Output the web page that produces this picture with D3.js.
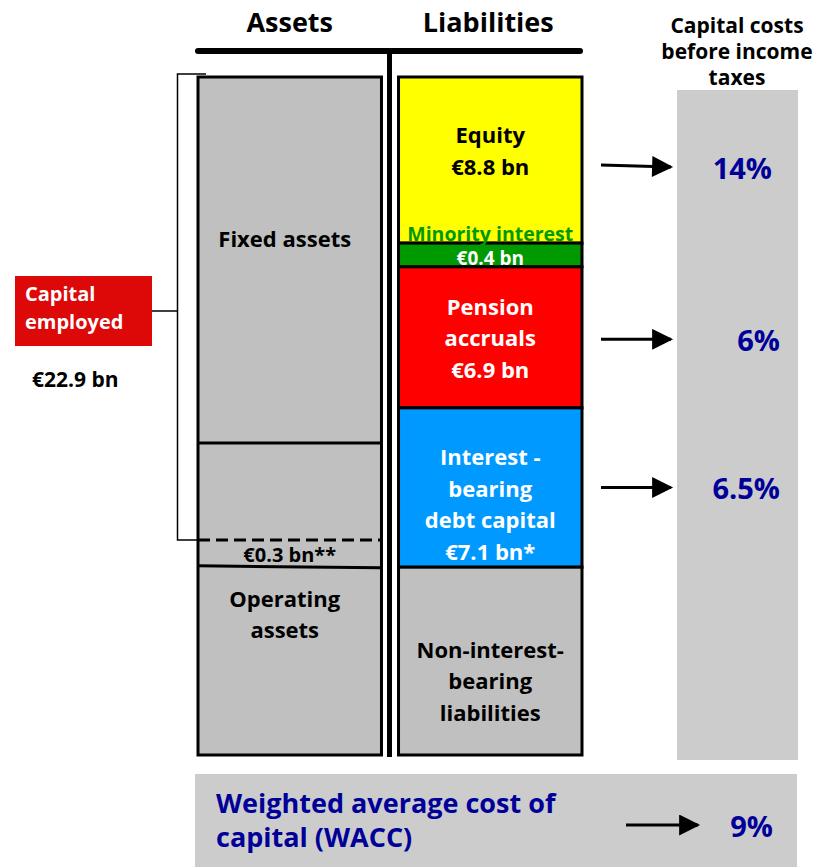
<!DOCTYPE html>
<html>
<head>
<meta charset="utf-8">
<script src="https://cdn.jsdelivr.net/npm/d3@7"></script>
<style>
  body { margin: 0; background: #fff; }
  text { font-family: "Open Sans", "DejaVu Sans", sans-serif; font-weight: 700; }
</style>
</head>
<body>
<svg id="chart" width="821" height="867"></svg>
<script>
// balance sheet blocks, share of balance sheet total (%) as drawn
const assetNames = ['Fixed assets', 'Current part', 'Other', 'Operating assets']
const assetShares = [54, 14.3, 3.8, 27.9]
const assetLabels = [['Fixed assets'], [], ['€0.3 bn**'], ['Operating', 'assets']]

const liabNames = ['Equity', 'Minority interest', 'Pension accruals', 'Interest-bearing debt', 'Non-interest-bearing']
const liabShares = [24.5, 3.5, 20.8, 23.5, 27.7]
const liabColors = ['#ffff00', '#009900', '#ff0000', '#0099ff', '#c0c0c0']
const liabTextColors = ['#000000', '#ffffff', '#ffffff', '#ffffff', '#000000']
const liabLabels = [
  ['Equity', '€8.8 bn'],
  ['€0.4 bn'],
  ['Pension', 'accruals', '€6.9 bn'],
  ['Interest -', 'bearing', 'debt capital', '€7.1 bn*'],
  ['Non-interest-', 'bearing', 'liabilities']
]

// capital costs before income taxes, attached to liability blocks
const costBlocks = ['Equity', 'Pension accruals', 'Interest-bearing debt']
const costLabels = ['14%', '6%', '6.5%']
const waccLabel = '9%'
const capitalEmployed = '€22.9 bn'

const svg = d3.select('#chart')
const y = d3.scaleLinear().domain([0, 100]).range([77, 755])
const col = d3.scaleBand().domain(['Assets', 'Liabilities']).range([198, 582]).paddingInner(0.085)
const navy = '#000099'

function stack (names, shares) {
  let acc = 0
  return names.map((n, i) => {
    const s = { name: n, y0: acc, y1: acc + shares[i], i }
    acc += shares[i]
    return s
  })
}
const assets = stack(assetNames, assetShares)
const liabs = stack(liabNames, liabShares)

svg.append('defs').append('marker')
  .attr('id', 'arrow')
  .attr('viewBox', '0 0 10 10')
  .attr('refX', 9).attr('refY', 5)
  .attr('markerWidth', 7.5).attr('markerHeight', 7)
  .attr('markerUnits', 'strokeWidth')
  .attr('orient', 'auto')
  .append('path').attr('d', 'M0,0 L10,5 L0,10 Z').attr('fill', '#000')

// right gray column
svg.append('rect').attr('x', 677).attr('y', 90).attr('width', 121).attr('height', 670).attr('fill', '#cccccc')

// headers
svg.selectAll('.colhead')
  .data(col.domain())
  .enter().append('text')
  .attr('x', d => col(d) + col.bandwidth() / 2 + (d === 'Assets' ? 0 : -2))
  .attr('y', 32)
  .attr('text-anchor', 'middle')
  .style('font-size', '27px')
  .text(d => d)

svg.append('text')
  .attr('text-anchor', 'middle')
  .style('font-size', '21px')
  .selectAll('tspan')
  .data(['Capital costs', 'before income', 'taxes'])
  .enter().append('tspan')
  .attr('x', 737)
  .attr('y', (d, i) => 33 + i * 26)
  .text(d => d)

// T-account lines
svg.append('line').attr('x1', 198).attr('x2', 580).attr('y1', 51).attr('y2', 51)
  .attr('stroke', '#000').attr('stroke-width', 6).attr('stroke-linecap', 'round')
svg.append('line').attr('x1', 389.5).attr('x2', 389.5).attr('y1', 51).attr('y2', 757)
  .attr('stroke', '#000').attr('stroke-width', 5)

// asset blocks
const ax = col('Assets')
const bw = col.bandwidth()
svg.append('rect').attr('x', ax).attr('y', y(0)).attr('width', bw).attr('height', y(100) - y(0))
  .attr('fill', '#c0c0c0').attr('stroke', '#000').attr('stroke-width', 3)
assets.slice(1).forEach(a => {
  svg.append('line')
    .attr('x1', ax).attr('x2', ax + bw)
    .attr('y1', y(a.y0)).attr('y2', a.name === 'Operating assets' ? y(a.y0) + 2 : y(a.y0))
    .attr('stroke', '#000').attr('stroke-width', 3)
    .attr('stroke-dasharray', a.name === 'Other' ? '12,6' : null)
})
assets.forEach(a => {
  const lines = assetLabels[a.i]
  const cy = a.name === 'Fixed assets' ? y(a.y0) + 161 : (y(a.y0) + y(a.y1)) / 2 - (a.name === 'Operating assets' ? 47 : -1)
  svg.append('text')
    .attr('text-anchor', 'middle')
    .attr('dominant-baseline', 'central')
    .style('font-size', a.name === 'Other' ? '20px' : '22px')
    .selectAll('tspan')
    .data(lines)
    .enter().append('tspan')
    .attr('x', ax + bw / 2 + (a.name === 'Other' ? 0 : -5))
    .attr('y', (d, i) => cy + (i - (lines.length - 1) / 2) * 31)
    .text(d => d)
})

// liability blocks
const lx = col('Liabilities')
svg.selectAll('.liab')
  .data(liabs)
  .enter().append('rect')
  .attr('class', 'liab')
  .attr('x', lx).attr('y', d => y(d.y0))
  .attr('width', bw).attr('height', d => y(d.y1) - y(d.y0))
  .attr('fill', d => liabColors[d.i])
  .attr('stroke', '#000').attr('stroke-width', 3)

// minority interest caption sits on the yellow block
const minority = liabs.find(d => d.name === 'Minority interest')
svg.append('text')
  .attr('x', lx + bw / 2).attr('y', y(minority.y0) - 10)
  .attr('text-anchor', 'middle').attr('dominant-baseline', 'central')
  .attr('fill', '#009900').style('font-size', '19.5px')
  .text('Minority interest')

liabs.forEach(l => {
  const lines = liabLabels[l.i]
  let cy = (y(l.y0) + y(l.y1)) / 2
  if (l.name === 'Equity') cy -= 10
  if (l.name === 'Minority interest') cy += 3
  if (l.name === 'Interest-bearing debt') cy += 16
  if (l.name === 'Non-interest-bearing') cy += 19
  svg.append('text')
    .attr('text-anchor', 'middle')
    .attr('dominant-baseline', 'central')
    .attr('fill', liabTextColors[l.i])
    .style('font-size', l.name === 'Minority interest' ? '19px' : '22px')
    .selectAll('tspan')
    .data(lines)
    .enter().append('tspan')
    .attr('x', lx + bw / 2)
    .attr('y', (d, i) => cy + (i - (lines.length - 1) / 2) * 31.5)
    .text(d => d)
})

// bracket for capital employed
const other = assets.find(d => d.name === 'Other')
svg.append('path')
  .attr('d', `M206,${y(0) - 3} H177.5 V${y(other.y0)} H198`)
  .attr('fill', 'none').attr('stroke', '#000').attr('stroke-width', 1.5)
svg.append('line').attr('x1', 152).attr('x2', 177).attr('y1', 311).attr('y2', 311)
  .attr('stroke', '#000').attr('stroke-width', 1.5)
svg.append('rect').attr('x', 15).attr('y', 276).attr('width', 137).attr('height', 70).attr('fill', '#dd0808')
svg.append('text')
  .attr('fill', '#fff').style('font-size', '20px')
  .selectAll('tspan')
  .data(['Capital', 'employed'])
  .enter().append('tspan')
  .attr('x', 25)
  .attr('y', (d, i) => 301 + i * 28)
  .text(d => d)
svg.append('text').attr('x', 32).attr('y', 387).style('font-size', '21px').text(capitalEmployed)

// cost arrows and labels
costBlocks.forEach((name, i) => {
  const b = liabs.find(d => d.name === name)
  const cy = name === 'Equity' ? y(b.y0) + 90 : name === 'Pension accruals' ? (y(b.y0) + y(b.y1)) / 2 + 2 : (y(b.y0) + y(b.y1)) / 2
  svg.append('line')
    .attr('x1', 601).attr('x2', 671)
    .attr('y1', name === 'Equity' ? cy - 2 : cy).attr('y2', cy)
    .attr('stroke', '#000').attr('stroke-width', 3)
    .attr('marker-end', 'url(#arrow)')
  svg.append('text')
    .attr('x', name === 'Equity' ? 772 : 780).attr('y', cy)
    .attr('text-anchor', 'end').attr('dominant-baseline', 'central')
    .attr('fill', navy).style('font-size', '29px')
    .text(costLabels[i])
})

// WACC box
svg.append('rect').attr('x', 195).attr('y', 774).attr('width', 602).attr('height', 93).attr('fill', '#cccccc')
svg.append('text')
  .attr('fill', navy).style('font-size', '27px')
  .selectAll('tspan')
  .data(['Weighted average cost of', 'capital (WACC)'])
  .enter().append('tspan')
  .attr('x', 216)
  .attr('y', (d, i) => 813 + i * 34)
  .text(d => d)
svg.append('line').attr('x1', 626).attr('x2', 698).attr('y1', 825).attr('y2', 825)
  .attr('stroke', '#000').attr('stroke-width', 3).attr('marker-end', 'url(#arrow)')
svg.append('text').attr('x', 773).attr('y', 825)
  .attr('text-anchor', 'end').attr('dominant-baseline', 'central')
  .attr('fill', navy).style('font-size', '29px')
  .text(waccLabel)
</script>
</body>
</html>
